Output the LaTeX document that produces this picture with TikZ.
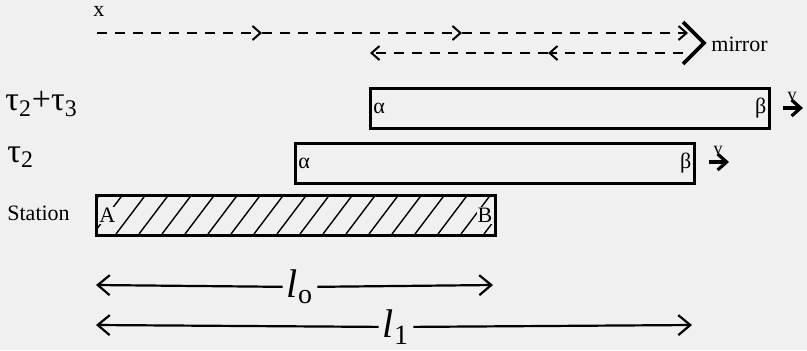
\documentclass[tikz,border=0pt]{standalone}
\usepackage{fontspec}
\setmainfont{Liberation Serif}
\usetikzlibrary{arrows.meta, positioning}

\definecolor{bgcol}{RGB}{240,240,240}

\begin{document}
\begin{tikzpicture}[
    x=0.5pt, y=-0.5pt,
    >={Straight Barb[length=4pt, width=7pt]},
    % Styles
    carbox/.style={draw, line width=1.4pt, minimum width=199.5pt, minimum height=20pt, anchor=north west, inner sep=0pt},
    ray/.style={dash pattern=on 5pt off 4pt, line width=1pt},
    dimline/.style={line width=1.1pt, -{Straight Barb[length=6pt, width=10pt]}},
    speed/.style={line width=1.6pt, -{Straight Barb[length=4.5pt, width=8pt]}},
    rowlabel/.style={anchor=west, inner sep=0pt},
    endlabel/.style={inner sep=1pt, font=\fontsize{11}{13}\selectfont},
    dimlabel/.style={inner sep=2pt, font=\fontsize{20}{22}\selectfont\itshape},
]

\fill[bgcol] (0,0) rectangle (807,350);
\useasboundingbox (0,0) rectangle (807,350);

% ── Light ray to the mirror and back ──
\node[rowlabel, font=\fontsize{11}{13}\selectfont] (xlab) at (93,11) {x};
\coordinate (src) at (97,33);
\coordinate (m1) at (262,33);
\coordinate (m2) at (462,33);
\coordinate (mtop) at (688,33);
\coordinate (mbot) at (683,53);
\coordinate (r1) at (548,53);
\coordinate (rend) at (370,53);

\draw[ray,->] (src) -- (m1);
\draw[ray,->] (m1) -- (m2);
\draw[ray,->] (m2) -- (mtop);
\draw[ray,->] (mbot) -- (r1);
\draw[ray,->] (r1) -- (rend);

\coordinate (ch1) at (683,22);
\coordinate (ch2) at (704,43);
\coordinate (ch3) at (683,64);
\draw[line width=1.8pt] (ch1) -- (ch2) -- (ch3);
\node[rowlabel, font=\fontsize{11}{13}\selectfont] (mirror) at (711,44) {mirror};

% ── Train at tau2 + tau3 ──
\node[rowlabel, font=\fontsize{17}{19}\selectfont] (t23) at (5,104) {τ\textsubscript{2}+τ\textsubscript{3}};
\node[carbox] (front) at (369,87) {};
\node[endlabel, right=1pt of front.west] (fa) {α};
\node[endlabel, left=1pt of front.east] (fb) {β};
\coordinate (v1a) at (783,108);
\coordinate (v1b) at (803,108);
\draw[speed] (v1a) -- (v1b);
\node[font=\fontsize{9}{10}\selectfont, inner sep=0pt] (v1) at (792,96) {v};

% ── Train at tau2 ──
\node[rowlabel, font=\fontsize{17}{19}\selectfont] (t2) at (7,157) {τ\textsubscript{2}};
\node[carbox] (mid) at (294,142) {};
\node[endlabel, right=1pt of mid.west] (ma) {α};
\node[endlabel, left=1pt of mid.east] (mb) {β};
\coordinate (v2a) at (709,162);
\coordinate (v2b) at (729,162);
\draw[speed] (v2a) -- (v2b);
\node[font=\fontsize{9}{10}\selectfont, inner sep=0pt] (v2) at (718,150) {v};

% ── Station ──
\node[rowlabel, font=\fontsize{11}{13}\selectfont] (stat) at (7,213) {Station};
\begin{scope}
  \clip (95,194) rectangle (493,233);
  \foreach \hx in {70,93,...,500} {
    \draw[line width=0.7pt] (\hx,234) -- (\hx+31,193);
  }
\end{scope}
\node[carbox] (station) at (95,194) {};
\node[endlabel, fill=bgcol, inner sep=0.5pt, right=1.5pt of station.west] (sa) {A};
\node[endlabel, fill=bgcol, inner sep=0.5pt, left=1.5pt of station.east] (sb) {B};

% ── Lengths ──
\coordinate (l0l) at (96,285);
\coordinate (l0r) at (493,285);
\node[dimlabel] (l0) at (300,287) {l\textsubscript{\upshape o}};
\draw[dimline] (l0) -- (l0l);
\draw[dimline] (l0) -- (l0r);

\coordinate (l1l) at (96,325);
\coordinate (l1r) at (692,325);
\node[dimlabel] (l1) at (396,327) {l\textsubscript{\upshape 1}};
\draw[dimline] (l1) -- (l1l);
\draw[dimline] (l1) -- (l1r);

\end{tikzpicture}
\end{document}
